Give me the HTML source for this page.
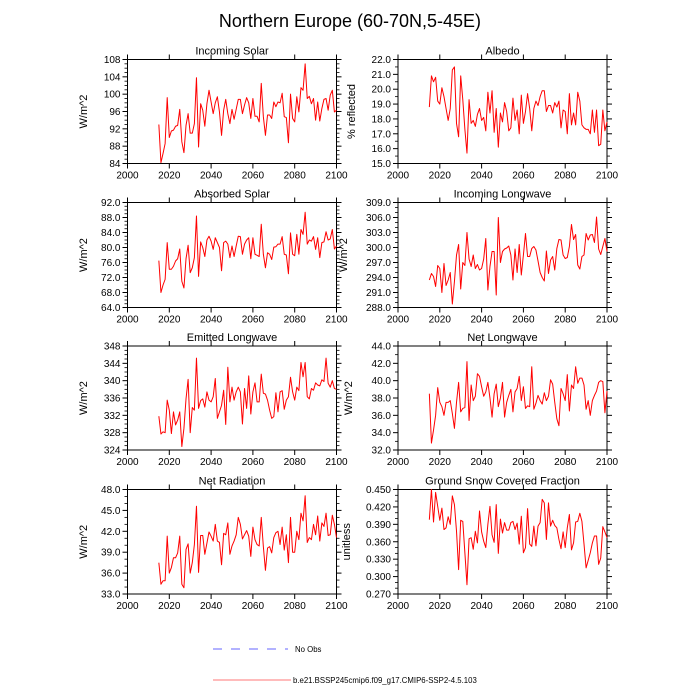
<!DOCTYPE html>
<html><head><meta charset="utf-8"><title>Northern Europe</title>
<style>
html,body{margin:0;padding:0;background:#fff;}
svg{display:block;font-family:"Liberation Sans",Arial,sans-serif;}
</style></head>
<body>
<svg id="chart" width="700" height="700" viewBox="0 0 700 700" xmlns="http://www.w3.org/2000/svg">
<rect x="0" y="0" width="700" height="700" fill="#fff"/>
<text x="350" y="27" font-size="18" text-anchor="middle">Northern Europe (60-70N,5-45E)</text>
<g id="panels"></g>
<g>
<line x1="213" y1="649" x2="288" y2="649" stroke="#6666ff" stroke-width="1" stroke-dasharray="9,9"/>
<text x="295" y="652" font-size="7.8">No Obs</text>
<line x1="213" y1="680" x2="291" y2="680" stroke="#ff7777" stroke-width="1"/>
<text x="293" y="683" font-size="7.8">b.e21.BSSP245cmip6.f09_g17.CMIP6-SSP2-4.5.103</text>
</g>
</svg>
<script>
const years = []; for (let y = 2015; y <= 2100; y++) years.push(y);
const xTicks = [2000, 2020, 2040, 2060, 2080, 2100];

const incomingSolar = [93,84.2,86.3,88.6,99.2,90,91.5,91.7,92.6,92.8,96.5,89,86.5,92.8,95.5,91,91,93.2,103.8,87.8,97.8,96.3,92.6,97.8,100.9,98.2,95.5,98,99.4,95.9,90.5,96.3,98.8,95.5,93.2,96.5,94.2,96.5,98.8,98.8,95.5,97.5,99.2,98,94.4,99,94.9,94.9,93.6,102.5,94.8,90.5,95.2,95.2,94.4,98.2,97.1,98.2,98,100.2,94.8,94.6,88.8,100,94.4,93.6,99.4,95.9,101.5,100.9,107,99,99.5,97.8,99,94,98.2,93.8,96.7,98.8,99,96.3,99.8,100.9,95.9,96.3];
const albedo = [18.8,20.9,20.5,20.8,19.2,19,20.1,19.5,18.7,17.9,18.7,21.3,21.5,17.7,16.8,20.9,19.3,17.3,15.7,19.3,17.7,17.9,17.5,18.3,18.7,17.9,18.1,17.2,19.8,18.4,19.9,17.1,18.7,16.1,18.4,17.8,19.1,18.5,17.2,17.4,19.4,17.9,18.6,17,19.6,17.7,18.5,19.7,18.7,17.2,18.7,19.2,18.9,19.5,19.9,19.9,18.5,18.9,18.9,18.4,19.1,18.8,19.2,17.4,18.6,18.5,17,19.7,17.6,18.4,17.6,19.8,19.2,17.6,17.4,17.3,17.3,17,18.6,17.1,18.6,16.2,16.3,18.6,17.2,17.8];
const absorbedSolar = [76.5,68,70,71.5,81.3,74.2,74.2,75,76.4,77,79.6,71,69.2,77,80.6,73.3,74.6,77.3,88.4,72.3,81.5,80,77.6,82,83,81.7,79.5,82.6,81.3,80,73.8,81.3,81.7,80.9,77.3,80.4,77.6,80.4,83,82.9,78.2,80.9,82,82.6,77,82.6,78.2,77.9,77.6,86.2,78.2,74.6,78.6,78.2,76.8,80.1,80.2,80.9,80.9,82.9,78.2,78,73,83.9,78.2,77.8,83.5,78.2,84.8,83.5,89.4,80.9,82,81.7,82.9,79.5,82.6,77.3,81.3,81.5,84.2,82,82.3,84.8,79.6,80.4];
const incomingLongwave = [293.5,294.8,294.2,292.2,296.4,295.8,291,296.8,292.4,293.5,295,288.7,293.2,298.5,300.6,291.7,297,296.4,303,297.7,296.2,298.5,295.8,296.6,295.5,295.8,297.7,301.8,291.5,296.2,299.2,299.2,290.5,306,297,299.2,299.7,299.9,300.3,298.5,293.5,299.7,295,300.6,294.5,298.5,302.8,298.2,298.2,299.8,300.2,299.5,297.3,295,294,293.3,299.3,294.8,297.5,298.2,295.5,299.8,301.6,301.5,298.5,297.8,298,300.2,304.6,301.6,302.6,296.5,295.7,298.2,298.5,302.8,301.5,302.5,302.6,301,306.1,299.7,298.6,300.2,301.8,299.2];
const emittedLongwave = [331.8,327.7,328.2,328,335.5,333.2,327.8,332.8,329.8,330.9,332.8,324.8,329,335.8,340.3,328,333.8,333.2,345.2,333.6,335.4,335.8,333.9,337.4,335.5,335.1,336.3,340.5,331.3,332.8,334.3,337.8,329.9,343.1,335.1,338.5,335.5,337.4,338.5,337.4,330,338.2,333.6,341.1,332.3,337.4,339.5,335.1,335.1,341.5,337.1,336.9,335.5,333.2,331.3,331.7,337.2,332.8,337.4,337.7,333.4,335.5,336.3,340.8,337.4,335.5,338.5,337.7,344.2,340.9,344.2,336.3,335.8,338.2,337.8,339.5,339,338.8,340.2,339.8,345.2,339.4,338.5,340,338.2,338];
const netLongwave = [38.5,32.8,34.3,36,39.2,37.5,37,36,37.5,37.5,37.7,36.2,34.5,37.5,39.8,36.4,36.8,36.9,42.2,35.4,39.5,37.7,38.2,40.8,40.5,39.3,38.2,38.7,39.8,38,35.8,38.5,39.6,37,38,39.8,35.8,37.5,38.3,39,36.4,38.7,39.1,40.5,37.7,39.3,36.8,37.1,37,41.6,36.7,37.4,38.3,37.7,37.3,38.6,37.7,38.2,40.1,39.6,37.5,35.6,34.8,39.1,38.5,37.7,40.7,36.5,39.5,39.1,41.6,39.7,40.3,40.3,39.5,36.7,37.7,36,37.7,38.3,38.8,39.8,40,39.9,36.3,38.8];
const netRadiation = [37.5,34.4,34.9,34.9,41.3,36,36.8,38.2,38.2,38.9,41.3,34.4,33.9,39.4,40.2,36,37.5,40.1,45.6,36.1,41.4,41.4,38.7,40.3,41.9,41.3,40.6,43,40.6,40.4,37.2,41.7,41.5,43.2,38.7,39.9,40.6,41.5,44,43,40.9,41.5,42.1,41.3,38.4,42.6,40.8,40.1,39.9,44,39.8,36.4,39.6,39.8,38.9,41.1,41.8,42,40.1,42.6,39.3,41.5,37.5,44,39,39,42,40.8,44.6,43.5,47.1,40.4,41.1,40.8,43,41.5,44.2,40.6,43.2,42.7,44.6,41.4,41.5,44.3,43,41.1];
const snowFraction = [0.398,0.450,0.394,0.445,0.421,0.397,0.418,0.381,0.384,0.403,0.390,0.439,0.424,0.378,0.312,0.397,0.395,0.341,0.286,0.365,0.367,0.347,0.378,0.358,0.413,0.377,0.361,0.350,0.390,0.421,0.372,0.359,0.424,0.340,0.399,0.375,0.393,0.380,0.380,0.393,0.395,0.381,0.392,0.356,0.404,0.341,0.350,0.417,0.356,0.352,0.387,0.353,0.387,0.393,0.433,0.427,0.364,0.427,0.387,0.397,0.388,0.384,0.364,0.348,0.377,0.350,0.384,0.407,0.346,0.358,0.394,0.395,0.409,0.395,0.356,0.315,0.328,0.341,0.358,0.370,0.370,0.321,0.332,0.386,0.377,0.367];

const incomingSolarTicks = [84,88,92,96,100,104,108];
const albedoTicks = [15,16,17,18,19,20,21,22];
const absorbedSolarTicks = [64,68,72,76,80,84,88,92];
const incomingLongwaveTicks = [288,291,294,297,300,303,306,309];
const emittedLongwaveTicks = [324,328,332,336,340,344,348];
const netLongwaveTicks = [32,34,36,38,40,42,44];
const netRadiationTicks = [33,36,39,42,45,48];
const snowTicks = [0.27,0.30,0.33,0.36,0.39,0.42,0.45];

const L = [127.5, 336.5], R = [398, 607];
const rows = [[59.5,163.5],[202.5,307.5],[346,450],[489.5,594]];
const panels = [
 {name:'incoming-solar', title:'Incoming Solar', ytitle:'W/m^2', data:incomingSolar, ticks:incomingSolarTicks, dec:0, minor:3, col:L, row:rows[0], ytx:87},
 {name:'albedo', title:'Albedo', ytitle:'% reflected', data:albedo, ticks:albedoTicks, dec:1, minor:1, col:R, row:rows[0], ytx:355},
 {name:'absorbed-solar', title:'Absorbed Solar', ytitle:'W/m^2', data:absorbedSolar, ticks:absorbedSolarTicks, dec:1, minor:3, col:L, row:rows[1], ytx:87},
 {name:'incoming-longwave', title:'Incoming Longwave', ytitle:'W/m^2', data:incomingLongwave, ticks:incomingLongwaveTicks, dec:1, minor:2, col:R, row:rows[1], ytx:347},
 {name:'emitted-longwave', title:'Emitted Longwave', ytitle:'W/m^2', data:emittedLongwave, ticks:emittedLongwaveTicks, dec:0, minor:3, col:L, row:rows[2], ytx:87},
 {name:'net-longwave', title:'Net Longwave', ytitle:'W/m^2', data:netLongwave, ticks:netLongwaveTicks, dec:1, minor:1, col:R, row:rows[2], ytx:352},
 {name:'net-radiation', title:'Net Radiation', ytitle:'W/m^2', data:netRadiation, ticks:netRadiationTicks, dec:1, minor:2, col:L, row:rows[3], ytx:87},
 {name:'ground-snow', title:'Ground Snow Covered Fraction', ytitle:'unitless', data:snowFraction, ticks:snowTicks, dec:3, minor:2, col:R, row:rows[3], ytx:350}
];

const NS = 'http://www.w3.org/2000/svg';
function mk(tag, attrs, parent){const e=document.createElementNS(NS,tag);for(const k in attrs)e.setAttribute(k,attrs[k]);parent.appendChild(e);return e;}
const root = document.getElementById('panels');

panels.forEach(p=>{
  const [x0,x1]=p.col, [y0,y1]=p.row;
  const ymin=p.ticks[0], ymax=p.ticks[p.ticks.length-1];
  const xs = v => x0 + (v-2000)/100*(x1-x0);
  const ys = v => y1 - (v-ymin)/(ymax-ymin)*(y1-y0);
  const g = mk('g',{},root);
  
  
  const t = mk('text',{x:(x0+x1)/2,y:y0-5,'font-size':11,'text-anchor':'middle'},g);
  t.textContent=p.title;
  
  
  const yt = mk('text',{x:p.ytx,y:(y0+y1)/2,'font-size':11,'text-anchor':'middle',transform:'rotate(-90 '+p.ytx+' '+(y0+y1)/2+')'},g);
  yt.textContent=p.ytitle;
  
  
  p.ticks.forEach((v,i)=>{
    const y=ys(v);
    mk('line',{x1:x0-5,y1:y,x2:x0,y2:y,stroke:'#000','stroke-width':1},g);
    mk('line',{x1:x1,y1:y,x2:x1+5,y2:y,stroke:'#000','stroke-width':1},g);
    const lb = mk('text',{x:x0-7,y:y+3.5,'font-size':10,'text-anchor':'end'},g);
    lb.textContent=v.toFixed(p.dec);
    
    
    if(i<p.ticks.length-1){
      const step=(p.ticks[i+1]-v)/(p.minor+1);
      for(let k=1;k<=p.minor;k++){const ym=ys(v+k*step);
        mk('line',{x1:x0-3,y1:ym,x2:x0,y2:ym,stroke:'#000','stroke-width':0.8},g);
        mk('line',{x1:x1,y1:ym,x2:x1+3,y2:ym,stroke:'#000','stroke-width':0.8},g);}
    }
  });
  xTicks.forEach(v=>{
    const x=xs(v);
    mk('line',{x1:x,y1:y1,x2:x,y2:y1+5,stroke:'#000','stroke-width':1},g);
    mk('line',{x1:x,y1:y0-5,x2:x,y2:y0,stroke:'#000','stroke-width':1},g);
    const lb=mk('text',{x:x,y:y1+15,'font-size':10,'text-anchor':'middle'},g);
    lb.textContent=v;
    
    
  });
  const fr = mk('rect',{x:x0,y:y0,width:x1-x0,height:y1-y0,fill:'none',stroke:'#000','stroke-width':1},g);
  
  
  const pts = p.data.map((v,i)=>xs(years[i]).toFixed(2)+','+ys(v).toFixed(2)).join(' ');
  const pl = mk('polyline',{points:pts,fill:'none',stroke:'#ff0000','stroke-width':1,'stroke-linejoin':'round'},g);
  
  
});
</script>
</body></html>
